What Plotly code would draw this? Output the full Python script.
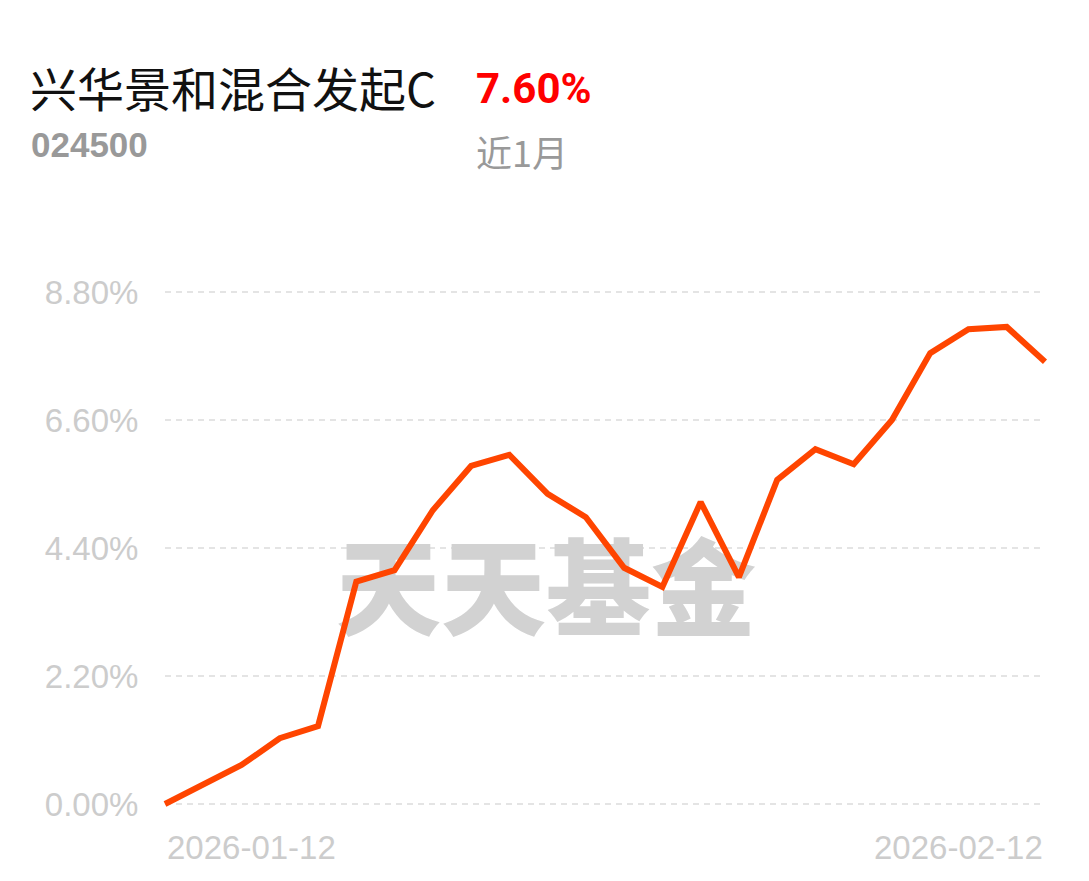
import plotly.graph_objects as go

dates = ["2026-01-12","2026-01-13","2026-01-14","2026-01-15","2026-01-16",
         "2026-01-19","2026-01-20","2026-01-21","2026-01-22","2026-01-23",
         "2026-01-26","2026-01-27","2026-01-28","2026-01-29","2026-01-30",
         "2026-02-02","2026-02-03","2026-02-04","2026-02-05","2026-02-06",
         "2026-02-09","2026-02-10","2026-02-11","2026-02-12"]
returns = [0.00, 0.33, 0.67, 1.13, 1.34, 3.82, 4.02, 5.05, 5.81, 6.00,
           5.33, 4.93, 4.06, 3.73, 5.19, 3.90, 5.57, 6.10, 5.84, 6.60,
           7.75, 8.16, 8.20, 7.60]
ytick_vals = [0.0, 2.2, 4.4, 6.6, 8.8]
ytick_text = ["0.00%", "2.20%", "4.40%", "6.60%", "8.80%"]
fund_name = "兴华景和混合发起C"
fund_code = "024500"
period_label = "近1月"
period_return = "7.60%"
watermark = "天天基金"

# page body has an 8px default margin; work in page pixels and subtract it
OFF = 8
W, H = 1089 - OFF, 881 - OFF
X0, X1 = 165 - OFF, 1045 - OFF     # first / last point (figure px)
Y0, Y1 = 804 - OFF, 292 - OFF      # 0.00% / 8.80% (figure px)
PAD = 10
ML, MR = X0 - PAD, W - X1 - PAD
MT, MB = Y1 - PAD, H - Y0 - PAD

idx = list(range(len(dates)))
px_per_x = (X1 - X0) / (len(dates) - 1)
px_per_y = (Y0 - Y1) / 8.8
pad_x = PAD / px_per_x
pad_y = PAD / px_per_y

fig = go.Figure()

# watermark (drawn under the line)
fig.add_trace(go.Scatter(
    x=[(546 - 165) / px_per_x], y=[(804 - 601) / px_per_y], mode="text",
    text=[watermark], hoverinfo="skip", showlegend=False,
    textfont=dict(family="Noto Sans CJK SC", size=105, color="#d2d2d2", weight=900),
))

fig.add_trace(go.Scatter(
    x=idx, y=returns, mode="lines",
    line=dict(color="#ff4500", width=6),
    showlegend=False, hoverinfo="skip",
))

# dashed gridlines
for v in ytick_vals:
    fig.add_shape(type="line", x0=0, x1=len(dates) - 1, y0=v, y1=v,
                  xref="x", yref="y", layer="below",
                  line=dict(color="#e4e4e4", width=2, dash="6px,5px"))

fig.update_xaxes(range=[-pad_x, len(dates) - 1 + pad_x], showgrid=False,
                 zeroline=False, showticklabels=False, showline=False)
fig.update_yaxes(range=[-pad_y, 8.8 + pad_y], showgrid=False, zeroline=False,
                 tickvals=ytick_vals, ticktext=ytick_text, ticks="outside",
                 ticklen=9, tickcolor="rgba(0,0,0,0)", showline=False,
                 tickfont=dict(family="Liberation Sans", size=33, color="#cccccc"))

def px2paper_x(px):
    return (px - OFF - ML) / (W - ML - MR)

def px2paper_y(py):
    return (H - MB - (py - OFF)) / (H - MT - MB)

annotations = [
    dict(text=fund_name, x=px2paper_x(28), y=px2paper_y(87), xanchor="left", yanchor="middle",
         font=dict(family="Noto Sans CJK SC", size=47, color="#111111")),
    dict(text="<b>" + period_return + "</b>", x=px2paper_x(474), y=px2paper_y(88), xanchor="left", yanchor="middle",
         font=dict(family="Roboto", size=42, color="#ff0000")),
    dict(text="<b>" + fund_code + "</b>", x=px2paper_x(29), y=px2paper_y(145), xanchor="left", yanchor="middle",
         font=dict(family="Liberation Sans", size=35, color="#999999")),
    dict(text=period_label, x=px2paper_x(474), y=px2paper_y(151), xanchor="left", yanchor="middle",
         font=dict(family="Noto Sans CJK SC", size=36, color="#999999")),
    dict(text=dates[0], x=0, xref="x", y=px2paper_y(847), xanchor="left", yanchor="middle",
         font=dict(family="Liberation Sans", size=33, color="#cccccc")),
    dict(text=dates[-1], x=len(dates) - 1, xref="x", y=px2paper_y(847), xanchor="right", yanchor="middle",
         font=dict(family="Liberation Sans", size=33, color="#cccccc")),
]
for a in annotations:
    a.setdefault("xref", "paper")
    a["yref"] = "paper"
    a["showarrow"] = False
fig.update_layout(annotations=annotations)

fig.update_layout(width=W, height=H, margin=dict(l=ML, r=MR, t=MT, b=MB),
                  paper_bgcolor="white", plot_bgcolor="white")

fig.write_html("out.html")
